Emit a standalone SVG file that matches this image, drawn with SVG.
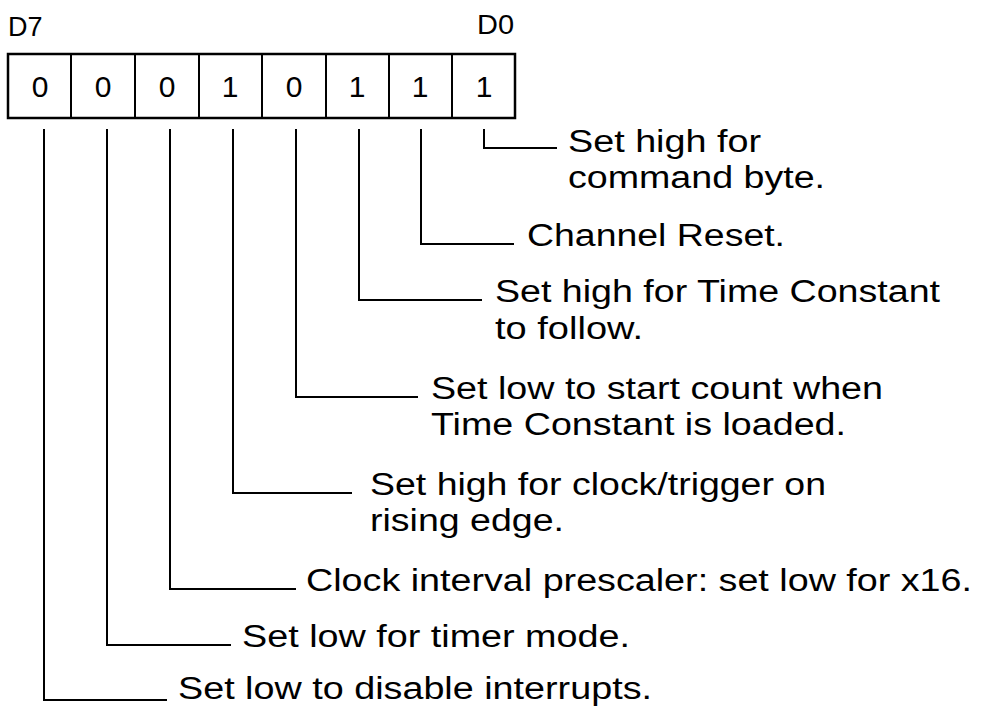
<svg xmlns="http://www.w3.org/2000/svg" width="983" height="708" viewBox="0 0 983 708">
  <style>
    .bg { fill: #ffffff; }
    .box { fill: none; stroke: #000; stroke-width: 2.5; }
    .div { stroke: #000; stroke-width: 2; }
    .lead { fill: none; stroke: #000; stroke-width: 2; }
    .bit { font-family: "Liberation Sans", Arial, sans-serif; font-size: 30px; fill: #000; text-anchor: middle; }
    .hdr { font-family: "Liberation Sans", Arial, sans-serif; font-size: 27px; fill: #000; }
    .lbl { font-family: "Liberation Sans", Arial, sans-serif; font-size: 31px; fill: #000; }
  </style>
  <rect class="bg" x="0" y="0" width="983" height="708"/>

  <g id="register">
    <text class="hdr" x="8" y="36">D7</text>
    <text class="hdr" x="477" y="34" textLength="37" lengthAdjust="spacingAndGlyphs">D0</text>
    <rect class="box" x="8" y="54" width="507" height="64"/>
    <line class="div" x1="71" y1="54" x2="71" y2="118"/>
    <line class="div" x1="135" y1="54" x2="135" y2="118"/>
    <line class="div" x1="199" y1="54" x2="199" y2="118"/>
    <line class="div" x1="262" y1="54" x2="262" y2="118"/>
    <line class="div" x1="326" y1="54" x2="326" y2="118"/>
    <line class="div" x1="389" y1="54" x2="389" y2="118"/>
    <line class="div" x1="452" y1="54" x2="452" y2="118"/>
    <text class="bit" x="40" y="97">0</text>
    <text class="bit" x="103" y="97">0</text>
    <text class="bit" x="167" y="97">0</text>
    <text class="bit" x="230" y="97">1</text>
    <text class="bit" x="294" y="97">0</text>
    <text class="bit" x="357" y="97">1</text>
    <text class="bit" x="420" y="97">1</text>
    <text class="bit" x="484" y="97">1</text>
  </g>

  <g id="connectors">
    <polyline class="lead" points="484,129 484,148 557,148"/>
    <polyline class="lead" points="421,129 421,244 514,244"/>
    <polyline class="lead" points="359,129 359,300 482,300"/>
    <polyline class="lead" points="296,129 296,397 418,397"/>
    <polyline class="lead" points="233,129 233,493 352,493"/>
    <polyline class="lead" points="170,129 170,589 296,589"/>
    <polyline class="lead" points="107,129 107,645 231,645"/>
    <polyline class="lead" points="44,129 44,700 167,700"/>
  </g>

  <g id="bit0">
    <text class="lbl" x="568" y="152" textLength="193" lengthAdjust="spacingAndGlyphs">Set high for</text>
    <text class="lbl" x="568" y="188" textLength="257" lengthAdjust="spacingAndGlyphs">command byte.</text>
  </g>
  <g id="bit1">
    <text class="lbl" x="527" y="246" textLength="258" lengthAdjust="spacingAndGlyphs">Channel Reset.</text>
  </g>
  <g id="bit2">
    <text class="lbl" x="495" y="302" textLength="445" lengthAdjust="spacingAndGlyphs">Set high for Time Constant</text>
    <text class="lbl" x="495" y="339" textLength="148" lengthAdjust="spacingAndGlyphs">to follow.</text>
  </g>
  <g id="bit3">
    <text class="lbl" x="431" y="399" textLength="452" lengthAdjust="spacingAndGlyphs">Set low to start count when</text>
    <text class="lbl" x="431" y="435" textLength="415" lengthAdjust="spacingAndGlyphs">Time Constant is loaded.</text>
  </g>
  <g id="bit4">
    <text class="lbl" x="370" y="495" textLength="456" lengthAdjust="spacingAndGlyphs">Set high for clock/trigger on</text>
    <text class="lbl" x="370" y="531" textLength="194" lengthAdjust="spacingAndGlyphs">rising edge.</text>
  </g>
  <g id="bit5">
    <text class="lbl" x="306" y="591" textLength="666" lengthAdjust="spacingAndGlyphs">Clock interval prescaler: set low for x16.</text>
  </g>
  <g id="bit6">
    <text class="lbl" x="242" y="647" textLength="388" lengthAdjust="spacingAndGlyphs">Set low for timer mode.</text>
  </g>
  <g id="bit7">
    <text class="lbl" x="178" y="699" textLength="474" lengthAdjust="spacingAndGlyphs">Set low to disable interrupts.</text>
  </g>
</svg>
